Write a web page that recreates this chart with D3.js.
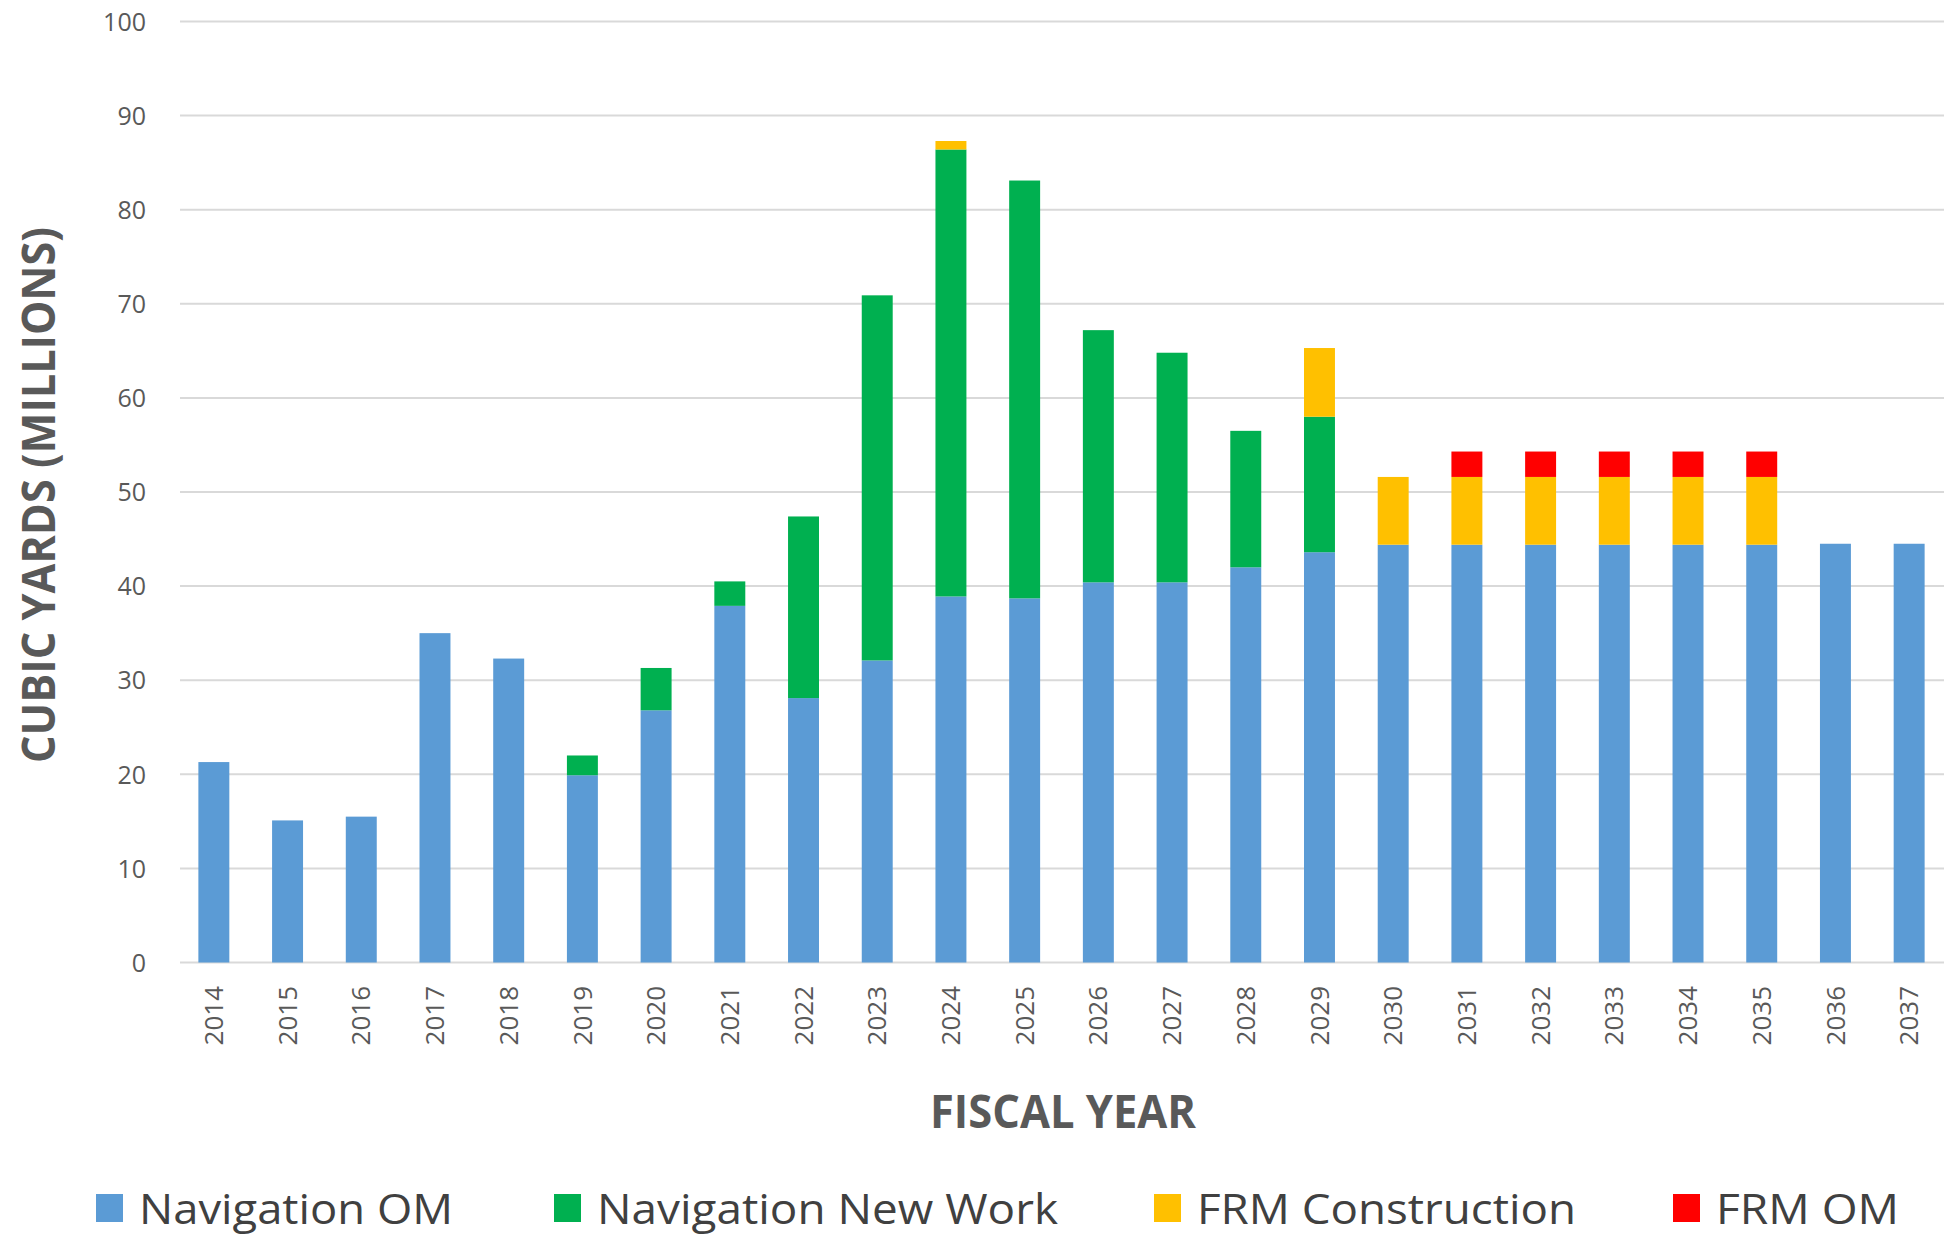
<!DOCTYPE html>
<html><head><meta charset="utf-8">
<script src="https://cdn.jsdelivr.net/npm/d3@7"></script>
<style>html,body{margin:0;padding:0;background:#fff;overflow:hidden}</style>
</head><body>
<svg id="chart" width="1944" height="1235"></svg>
<script>
const years = ["2014","2015","2016","2017","2018","2019","2020","2021","2022","2023","2024","2025","2026","2027","2028","2029","2030","2031","2032","2033","2034","2035","2036","2037"];
const navigationOM = [21.3,15.1,15.5,35.0,32.3,19.9,26.8,37.9,28.1,32.1,38.9,38.7,40.4,40.4,42.0,43.6,44.4,44.4,44.4,44.4,44.4,44.4,44.5,44.5];
const navigationNewWork = [0,0,0,0,0,2.1,4.5,2.6,19.3,38.8,47.5,44.4,26.8,24.4,14.5,14.4,0,0,0,0,0,0,0,0];
const frmConstruction = [0,0,0,0,0,0,0,0,0,0,0.9,0,0,0,0,7.3,7.2,7.2,7.2,7.2,7.2,7.2,0,0];
const frmOM = [0,0,0,0,0,0,0,0,0,0,0,0,0,0,0,0,0,2.7,2.7,2.7,2.7,2.7,0,0];
const seriesNames = ["Navigation OM","Navigation New Work","FRM Construction","FRM OM"];
const seriesColors = ["#5B9BD5","#00B050","#FFC000","#FF0000"];
const yTicks = [0,10,20,30,40,50,60,70,80,90,100];

const svg = d3.select("#chart");
const font = "'Open Sans', 'DejaVu Sans', sans-serif";

const x = d3.scaleBand().domain(years).range([177, 1946]).paddingInner(0.58).paddingOuter(0.29);
const y = d3.scaleLinear().domain([0, 100]).range([962.5, 21.5]);

// gridlines
svg.append("g").selectAll("line").data(yTicks).join("line")
  .attr("x1", 180).attr("x2", 1944)
  .attr("y1", d => y(d)).attr("y2", d => y(d))
  .attr("stroke", "#d9d9d9").attr("stroke-width", 2);

// stacked data
const keys = ["navOM","navNew","frmCon","frmOM"];
const table = years.map((yr, i) => ({year: yr, navOM: navigationOM[i], navNew: navigationNewWork[i], frmCon: frmConstruction[i], frmOM: frmOM[i]}));
const stacked = d3.stack().keys(keys)(table);

svg.append("g").selectAll("g").data(stacked).join("g")
  .attr("fill", (d, i) => seriesColors[i])
  .selectAll("rect").data(d => d.filter(s => s[1] - s[0] > 0)).join("rect")
  .attr("x", d => x(d.data.year))
  .attr("width", x.bandwidth())
  .attr("y", d => y(d[1]))
  .attr("height", d => y(d[0]) - y(d[1]));

// y axis
const yAxis = d3.axisLeft(y).tickValues(yTicks).tickSize(0).tickPadding(0);
const yg = svg.append("g").attr("transform", "translate(146,0)").call(yAxis);
yg.select(".domain").remove();
yg.selectAll("text").attr("font-family", font).attr("font-size", 25).attr("fill", "#595959").attr("dy", "0.35em");

// x axis
const xAxis = d3.axisBottom(x).tickSize(0).tickPadding(0);
const xg = svg.append("g").attr("transform", "translate(0,986)").call(xAxis);
xg.select(".domain").remove();
xg.selectAll("text")
  .attr("font-family", font).attr("font-size", 26).attr("fill", "#595959")
  .attr("transform", "rotate(-90)")
  .attr("text-anchor", "end")
  .attr("x", 0).attr("y", 0).attr("dy", "0.35em");

// axis titles
svg.append("text")
  .attr("transform", "translate(55,495) rotate(-90)")
  .attr("text-anchor", "middle")
  .attr("font-family", font).attr("font-weight", "bold").attr("font-size", 46)
  .attr("fill", "#595959")
  .attr("textLength", 536).attr("lengthAdjust", "spacingAndGlyphs")
  .text("CUBIC YARDS (MILLIONS)");

svg.append("text")
  .attr("x", 1063).attr("y", 1128)
  .attr("text-anchor", "middle")
  .attr("font-family", font).attr("font-weight", "bold").attr("font-size", 46)
  .attr("fill", "#595959")
  .attr("textLength", 266).attr("lengthAdjust", "spacingAndGlyphs")
  .text("FISCAL YEAR");

// legend
const legendSquareX = [96, 554, 1154, 1673];
const legendTextLen = [314, 461, 379, 183];
const lg = svg.append("g");
seriesNames.forEach((name, i) => {
  lg.append("rect").attr("x", legendSquareX[i]).attr("y", 1194).attr("width", 27).attr("height", 28).attr("fill", seriesColors[i]);
  lg.append("text").attr("x", legendSquareX[i] + 43).attr("y", 1224)
    .attr("font-family", font).attr("font-size", 42).attr("fill", "#404040")
    .attr("textLength", legendTextLen[i]).attr("lengthAdjust", "spacingAndGlyphs")
    .text(name);
});
</script>
</body></html>
